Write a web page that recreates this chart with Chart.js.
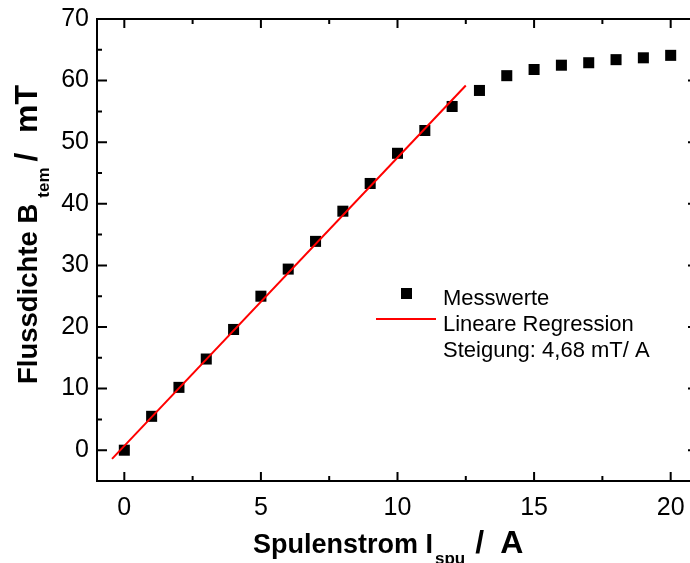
<!DOCTYPE html>
<html>
<head>
<meta charset="utf-8">
<script src="https://cdn.jsdelivr.net/npm/chart.js@4"></script>
<style>
    html, body { margin: 0; padding: 0; background: #fff; overflow: hidden; }
    #wrap { width: 720px; height: 563px; }
</style>
</head>
<body>
<div id="wrap"><canvas id="chart"></canvas></div>
<script>
// Messwerte: Spulenstrom in A, Flussdichte in mT
const current = [0, 1, 2, 3, 4, 5, 6, 7, 8, 9, 10, 11, 12, 13, 14, 15, 16, 17, 18, 19, 20];
const fluxDensity = [0, 5.5, 10.2, 14.8, 19.6, 25.0, 29.4, 33.9, 38.8, 43.3, 48.2, 51.9, 55.8,
    58.4, 60.8, 61.8, 62.5, 62.9, 63.4, 63.7, 64.1];

// Endpunkte der Regressionsgeraden
const regCurrent = [-0.45, 12.5];
const regFlux = [-1.4, 59.2];

const xMajor = [0, 5, 10, 15, 20];
const xMinor = [-2.5, 2.5, 7.5, 12.5, 17.5];
const yMajor = [0, 10, 20, 30, 40, 50, 60, 70];
const yMinor = [-5, 5, 15, 25, 35, 45, 55, 65];

const legendLabels = ['Messwerte', 'Lineare Regression', 'Steigung: 4,68 mT/ A'];

const FONT = '"Liberation Sans", Arial, sans-serif';
const chart = document.getElementById('chart');

const frame = {
    id: 'frame',
    beforeDatasetsDraw(c) {
        const { ctx, chartArea: a, scales: { x, y } } = c;
        ctx.save();
        ctx.strokeStyle = '#000';
        ctx.lineWidth = 2;
        ctx.strokeRect(a.left, a.top, a.right - a.left, a.bottom - a.top);
        ctx.beginPath();
        const tick = (vals, len) => {
            vals.forEach(v => {
                const px = x.getPixelForValue(v);
                if (px < a.left || px > a.right) return;
                ctx.moveTo(px, a.bottom); ctx.lineTo(px, a.bottom - len);
                ctx.moveTo(px, a.top); ctx.lineTo(px, a.top + len);
            });
        };
        const ytick = (vals, len) => {
            vals.forEach(v => {
                const py = y.getPixelForValue(v);
                if (py < a.top || py > a.bottom) return;
                ctx.moveTo(a.left, py); ctx.lineTo(a.left + len, py);
                ctx.moveTo(a.right, py); ctx.lineTo(a.right - len, py);
            });
        };
        tick(xMajor, 9);
        tick(xMinor, 5);
        ytick(yMajor, 10);
        ytick(yMinor, 5);
        ctx.stroke();
        ctx.restore();
    },
    afterDraw(c) {
        const ctx = c.ctx;
        ctx.save();
        ctx.fillStyle = '#000';
        ctx.textBaseline = 'alphabetic';

        // x-Achsentitel
        let px = 253;
        ctx.font = 'bold 27px ' + FONT;
        ctx.fillText('Spulenstrom I', px, 553);
        px += ctx.measureText('Spulenstrom I').width + 2;
        ctx.font = 'bold 17px ' + FONT;
        ctx.fillText('spu', px, 564);
        px += ctx.measureText('spu').width;
        ctx.font = 'bold 32px ' + FONT;
        ctx.fillText('/', px + 10, 553);
        ctx.fillText('A', px + 35, 553);

        // y-Achsentitel
        ctx.translate(37, 384);
        ctx.rotate(-Math.PI / 2);
        ctx.font = 'bold 27.5px ' + FONT;
        ctx.fillText('Flussdichte B', 0, 0);
        let ly = ctx.measureText('Flussdichte B').width + 6;
        ctx.font = 'bold 17px ' + FONT;
        ctx.fillText('tem', ly, 12);
        ly += ctx.measureText('tem').width;
        ctx.font = 'bold 32px ' + FONT;
        ctx.fillText('/', ly + 6, 0);
        ctx.textAlign = 'right';
        ctx.fillText('mT', 299, 0);
        ctx.restore();

        // Legende
        ctx.save();
        ctx.fillStyle = '#000';
        ctx.fillRect(401, 288, 11, 11);
        ctx.strokeStyle = '#ff0000';
        ctx.lineWidth = 2;
        ctx.beginPath();
        ctx.moveTo(376, 319);
        ctx.lineTo(436, 319);
        ctx.stroke();
        ctx.font = '22px ' + FONT;
        ctx.fillText(legendLabels[0], 443, 305);
        ctx.fillText(legendLabels[1], 443, 331);
        ctx.fillText(legendLabels[2], 443, 357);
        ctx.restore();
    }
};

const config = {
    type: 'scatter',
    data: {
        datasets: [{
            label: legendLabels[1],
            data: regCurrent.map((v, i) => ({ x: v, y: regFlux[i] })),
            showLine: true,
            borderColor: '#ff0000',
            borderWidth: 2,
            pointRadius: 0,
            fill: false
        }, {
            label: legendLabels[0],
            data: current.map((v, i) => ({ x: v, y: fluxDensity[i] })),
            pointStyle: 'rect',
            pointRadius: 7.8,
            pointBackgroundColor: '#000',
            pointBorderWidth: 0
        }]
    },
    options: {
        responsive: true,
        maintainAspectRatio: false,
        animation: false,
        events: [],
        layout: { padding: { top: 19, right: 22, bottom: 0, left: 0 } },
        plugins: {
            legend: { display: false },
            tooltip: { enabled: false }
        },
        scales: {
            x: {
                type: 'linear',
                min: -1,
                max: 21,
                afterBuildTicks: s => { s.ticks = xMajor.map(v => ({ value: v })); },
                afterFit: s => { s.height = 82; s.paddingLeft = 0; s.paddingRight = 0; },
                grid: { display: false, drawTicks: false },
                border: { display: false },
                ticks: {
                    color: '#000',
                    padding: 12,
                    maxRotation: 0,
                    font: { family: FONT, size: 25 }
                }
            },
            y: {
                type: 'linear',
                min: -5,
                max: 70,
                afterBuildTicks: s => { s.ticks = yMajor.map(v => ({ value: v })); },
                afterFit: s => { s.width = 97; s.paddingTop = 0; s.paddingBottom = 0; },
                grid: { display: false, drawTicks: false },
                border: { display: false },
                ticks: {
                    color: '#000',
                    padding: 8,
                    font: { family: FONT, size: 25 }
                }
            }
        }
    },
    plugins: [frame]
};

new Chart(chart, config);
</script>
</body>
</html>
